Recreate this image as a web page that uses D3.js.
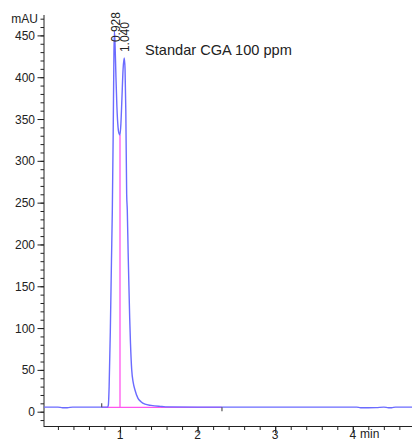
<!DOCTYPE html>
<html>
<head>
<meta charset="utf-8">
<script src="https://cdn.jsdelivr.net/npm/d3@7"></script>
<style>
  body { margin: 0; background: #fff; }
  svg { display: block; font-family: "Liberation Sans", Arial, sans-serif; }
</style>
</head>
<body>
<svg id="drawing_region"></svg>
<script>
// retention time (min) and detector signal (mAU)
const times = [0.02, 0.2, 0.26, 0.32, 0.39, 0.5, 0.76, 0.84, 0.85, 0.86, 0.875, 0.89, 0.901, 0.912, 0.922, 0.928,
               0.936, 0.948, 0.96, 0.975, 0.99, 1.0, 1.012, 1.025, 1.04, 1.055, 1.065, 1.075, 1.086, 1.094,
               1.105, 1.115, 1.125, 1.135, 1.151, 1.17, 1.193, 1.232, 1.27, 1.322, 1.4, 1.5, 1.54, 1.6, 2.0,
               3.0, 4.05, 4.1, 4.2, 4.3, 4.4, 4.46, 4.5, 4.55, 4.6, 4.763];
const signal = [5.5, 5.5, 4.8, 4.8, 5.5, 5.5, 5.5, 5.5, 8, 30, 95, 180, 240, 330, 430, 455,
                440, 400, 365, 340, 332, 331, 345, 375, 410, 423, 410, 360, 260, 241,
                190, 150, 112, 82, 50, 35, 26, 16, 12, 9, 7.5, 6.5, 6.3, 5.8, 5.5,
                5.5, 5.5, 4.8, 4.8, 4.9, 5.5, 4.8, 4.8, 5.5, 5.5, 5.5];

// integration marks
const peakTimes = [0.928, 1.040];
const peakLabels = ["0.928", "1.040"];
const peakLabelLevel = [442, 430];
const baseStart = 0.764, baseEnd = 2.314, baseLevel = 5.2;
const dropTime = 1.0, dropTop = 331;

const yTicks = [0, 50, 100, 150, 200, 250, 300, 350, 400, 450];
const xTicks = [1, 2, 3, 4];

const width = 412, height = 442;
const svg = d3.select('#drawing_region').attr('width', width).attr('height', height);

const xscale = d3.scaleLinear().domain([0.0206, 4.763]).range([44, 412]);
const yscale = d3.scaleLinear().domain([0, 450]).range([411.7, 35.4]);
const yTop = yscale.invert(15);

// y axis
const yaxis = svg.append('g').attr('transform', 'translate(44,0)');
yaxis.append('line').attr('x1', 0).attr('x2', 0).attr('y1', 15).attr('y2', 427).attr('stroke', '#222');
yaxis.selectAll('.minor').data(d3.range(-10, yTop, 10)).enter().append('line')
    .attr('x1', -3.5).attr('x2', 0)
    .attr('y1', d => yscale(d) + 0.5).attr('y2', d => yscale(d) + 0.5)
    .attr('stroke', '#222');
yaxis.selectAll('.major').data(yTicks).enter().append('line')
    .attr('x1', -6.5).attr('x2', 0)
    .attr('y1', d => yscale(d) + 0.5).attr('y2', d => yscale(d) + 0.5)
    .attr('stroke', '#222');
yaxis.selectAll('text').data(yTicks).enter().append('text')
    .attr('x', -9).attr('y', d => yscale(d) + 4.5)
    .attr('text-anchor', 'end').attr('font-size', 12).attr('fill', '#222')
    .text(d => d);
svg.append('text').attr('x', 38).attr('y', 23).attr('text-anchor', 'end')
    .attr('font-size', 12).attr('fill', '#222').text('mAU');

// x axis
const xaxis = svg.append('g').attr('transform', 'translate(0,426.5)');
xaxis.append('line').attr('x1', 44).attr('x2', 412).attr('y1', 0).attr('y2', 0).attr('stroke', '#222');
xaxis.selectAll('.minor').data(d3.range(0.2, 4.75, 0.2)).enter().append('line')
    .attr('x1', d => xscale(d) + 0.5).attr('x2', d => xscale(d) + 0.5)
    .attr('y1', 0).attr('y2', 3.5).attr('stroke', '#222');
xaxis.selectAll('.major').data(xTicks).enter().append('line')
    .attr('x1', d => xscale(d) + 0.5).attr('x2', d => xscale(d) + 0.5)
    .attr('y1', 0).attr('y2', 6.5).attr('stroke', '#222');
xaxis.selectAll('text').data(xTicks).enter().append('text')
    .attr('x', d => xscale(d)).attr('y', 12.5)
    .attr('text-anchor', 'middle').attr('font-size', 12).attr('fill', '#222')
    .text(d => d);
svg.append('text').attr('x', 360).attr('y', 438).attr('font-size', 12).attr('fill', '#222').text('min');

// integration baseline and drop line
svg.append('line')
    .attr('x1', xscale(baseStart)).attr('x2', xscale(baseEnd))
    .attr('y1', yscale(baseLevel)).attr('y2', yscale(baseLevel))
    .attr('stroke', '#ff55ee').attr('stroke-width', 1.3);
svg.append('line')
    .attr('x1', xscale(dropTime)).attr('x2', xscale(dropTime))
    .attr('y1', yscale(baseLevel)).attr('y2', yscale(dropTop))
    .attr('stroke', '#ff55ee').attr('stroke-width', 1.3);

// trace
const pts = times.map((t, i) => [t, signal[i]]);
svg.append('path')
    .datum(pts)
    .attr('fill', 'none')
    .attr('stroke', '#6b6bff')
    .attr('stroke-width', 1.4)
    .attr('d', d3.line().x(d => xscale(d[0])).y(d => yscale(d[1])).curve(d3.curveMonotoneX));

// event marks
svg.append('line').attr('x1', xscale(baseStart)).attr('x2', xscale(baseStart))
    .attr('y1', yscale(baseLevel) - 4).attr('y2', yscale(baseLevel)).attr('stroke', '#555').attr('stroke-width', 1.2);
svg.append('line').attr('x1', xscale(baseEnd)).attr('x2', xscale(baseEnd))
    .attr('y1', yscale(baseLevel)).attr('y2', yscale(baseLevel) + 4).attr('stroke', '#555').attr('stroke-width', 1.2);

// peak labels
svg.selectAll('.plabel').data(peakLabels).enter().append('text')
    .attr('transform', (d, i) => `translate(${xscale(peakTimes[i]) + 5.5},${yscale(peakLabelLevel[i])}) rotate(-90)`)
    .attr('font-size', 12).attr('fill', '#222')
    .text(d => d);

// title
svg.append('text').attr('x', 145).attr('y', 54.5).attr('font-size', 14.6).attr('fill', '#222')
    .text('Standar CGA 100 ppm');
</script>
</body>
</html>
